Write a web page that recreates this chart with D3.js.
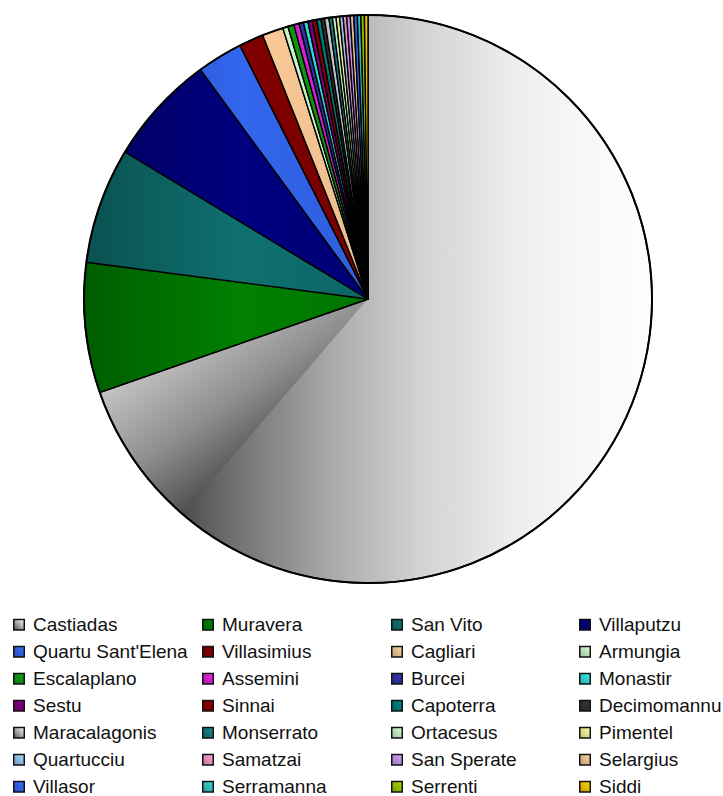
<!DOCTYPE html>
<html>
<head>
<meta charset="utf-8">
<script src="https://cdn.jsdelivr.net/npm/d3@7"></script>
<style>
  html, body { margin: 0; padding: 0; background: #ffffff; }
  svg { display: block; }
</style>
</head>
<body>
<svg id="chart" width="723" height="796"></svg>
<script>
// ---- data (share of total in %) ----
const categories = [
  "Castiadas", "Muravera", "San Vito", "Villaputzu",
  "Quartu Sant'Elena", "Villasimius", "Cagliari", "Armungia",
  "Escalaplano", "Assemini", "Burcei", "Monastir",
  "Sestu", "Sinnai", "Capoterra", "Decimomannu",
  "Maracalagonis", "Monserrato", "Ortacesus", "Pimentel",
  "Quartucciu", "Samatzai", "San Sperate", "Selargius",
  "Villasor", "Serramanna", "Serrenti", "Siddi"
];
const values = [
  69.7, 7.4, 6.6, 6.3,
  2.6, 1.4, 1.2, 0.3,
  0.35, 0.3, 0.25, 0.25,
  0.25, 0.25, 0.25, 0.2,
  0.25, 0.2, 0.2, 0.2,
  0.2, 0.2, 0.2, 0.2,
  0.2, 0.2, 0.2, 0.2
];
const colors = [
  "#d8d8d8", "#008000", "#0f7070", "#000080",
  "#3366ee", "#800000", "#ffcc99", "#ccffcc",
  "#119911", "#e020e0", "#3333aa", "#33e0e0",
  "#800080", "#8b0000", "#008080", "#333333",
  "#d0d0d0", "#1a8080", "#ccffcc", "#ffff99",
  "#99ccff", "#ff99cc", "#cc99ff", "#ffcc99",
  "#3366ff", "#33cccc", "#99cc00", "#ffcc00"
];

// ---- layout ----
const svg = d3.select("#chart");
const cx = 368, cy = 299, R = 284;
const defs = svg.append("defs");

const pie = d3.pie().sort(null).value(d => d.v).startAngle(0).endAngle(2 * Math.PI);
const data = categories.map((c, i) => ({ name: c, v: values[i], color: colors[i], i }));
const arcs = pie(data);
const arc = d3.arc().innerRadius(0).outerRadius(R);

const g = svg.append("g").attr("transform", `translate(${cx},${cy})`);
// point on rim, relative to centre
const pt = a => [R * Math.sin(a), -R * Math.cos(a)];

// gradients for ordinary slices (horizontal, in the group's coordinates)
arcs.forEach((d, i) => {
  if (i === 0) return;
  const base = d3.color(d.data.color);
  const gr = defs.append("linearGradient")
    .attr("id", "sg" + i)
    .attr("gradientUnits", "userSpaceOnUse")
    .attr("x1", -R).attr("y1", 0).attr("x2", 0).attr("y2", 0);
  gr.append("stop").attr("offset", 0).attr("stop-color", base.darker(0.9));
  gr.append("stop").attr("offset", 0.55).attr("stop-color", base);
  gr.append("stop").attr("offset", 1).attr("stop-color", base.darker(0.25));
});

// Castiadas: two-part grey gradient
const c0 = arcs[0];
const split = c0.startAngle + 0.88 * (c0.endAngle - c0.startAngle);
const pSplit = pt(split), pEnd = pt(c0.endAngle);

const gB = defs.append("linearGradient").attr("id", "castB")
  .attr("gradientUnits", "userSpaceOnUse")
  .attr("x1", pSplit[0]).attr("y1", 0).attr("x2", R).attr("y2", 0);
[[0, "#4d4d4d"], [0.1, "#6e6e6e"], [0.21, "#8c8c8c"], [0.31, "#a8a8a8"],
 [0.49, "#cfcfcf"], [0.69, "#ececec"], [0.84, "#f7f7f7"], [1, "#fdfdfd"]]
  .forEach(s => gB.append("stop").attr("offset", s[0]).attr("stop-color", s[1]));

const gA = defs.append("linearGradient").attr("id", "castA")
  .attr("gradientUnits", "userSpaceOnUse")
  .attr("x1", pSplit[0]).attr("y1", pSplit[1]).attr("x2", pEnd[0]).attr("y2", pEnd[1]);
[[0, "#505050"], [0.45, "#8e8e8e"], [1, "#c4c4c4"]]
  .forEach(s => gA.append("stop").attr("offset", s[0]).attr("stop-color", s[1]));

const arcPart = (a0, a1) => d3.arc().innerRadius(0).outerRadius(R)({ startAngle: a0, endAngle: a1 });

g.append("path").attr("d", arcPart(c0.startAngle, split + 0.004)).attr("fill", "url(#castB)");
g.append("path").attr("d", arcPart(split, c0.endAngle)).attr("fill", "url(#castA)");
g.append("path").attr("d", arc(c0)).attr("fill", "none")
  .attr("stroke", "#000").attr("stroke-width", 1.6).attr("stroke-linejoin", "round");

// other slices
g.selectAll("path.slice")
  .data(arcs.slice(1))
  .join("path")
  .attr("class", "slice")
  .attr("d", arc)
  .attr("fill", d => "url(#sg" + d.data.i + ")")
  .attr("stroke", "#000")
  .attr("stroke-width", 1.4)
  .attr("stroke-linejoin", "round");

// outer rim
g.append("circle").attr("r", R).attr("fill", "none").attr("stroke", "#000").attr("stroke-width", 2);

// ---- legend ----
const colX = [13, 202, 391, 579];
const row0 = 631, rowH = 27;
const legend = svg.append("g");
data.forEach((d, i) => {
  const col = i % 4, row = Math.floor(i / 4);
  const x = colX[col], y = row0 + row * rowH;
  const base = d3.color(d.color);
  const lg = defs.append("linearGradient").attr("id", "lg" + i)
    .attr("x1", 0).attr("y1", 1).attr("x2", 1).attr("y2", 0);
  if (i === 0 || i === 16) {
    lg.append("stop").attr("offset", 0).attr("stop-color", "#505050");
    lg.append("stop").attr("offset", 1).attr("stop-color", "#ffffff");
  } else {
    lg.append("stop").attr("offset", 0).attr("stop-color", base.darker(0.8));
    lg.append("stop").attr("offset", 1).attr("stop-color", base.brighter(0.2));
  }
  legend.append("rect")
    .attr("x", x + 0.75).attr("y", y - 11.5)
    .attr("width", 10.5).attr("height", 10.5)
    .attr("fill", `url(#lg${i})`)
    .attr("stroke", "#111").attr("stroke-width", 1.5);
  legend.append("text")
    .attr("x", x + 20).attr("y", y)
    .attr("font-family", "Liberation Sans, Arial, sans-serif")
    .attr("font-size", 19)
    .attr("fill", "#111")
    .text(d.name);
});
</script>
</body>
</html>
